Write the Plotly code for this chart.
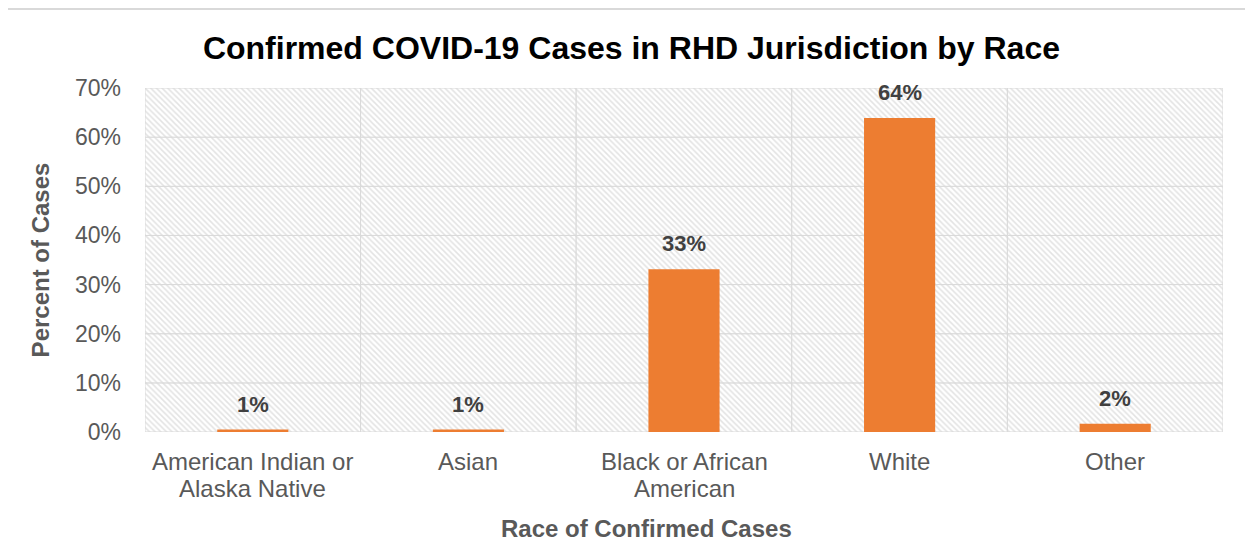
import plotly.graph_objects as go

categories = ["American Indian or Alaska Native", "Asian", "Black or African American", "White", "Other"]
tick_lines = [["American Indian or", "Alaska Native"], ["Asian"], ["Black or African", "American"], ["White"], ["Other"]]
values = [0.5, 0.5, 33.1, 63.9, 1.7]
labels = ["1%", "1%", "33%", "64%", "2%"]
y_ticks = [0, 10, 20, 30, 40, 50, 60, 70]
y_tick_text = [f"{v}%" for v in y_ticks]

FONT = "Liberation Sans, Arial"
GRAY = "#595959"

fig = go.Figure()

# hatched background cells (one band per gridline interval)
for lo, hi in zip(y_ticks[:-1], y_ticks[1:]):
    fig.add_trace(go.Bar(
        x=categories, y=[hi - lo] * len(categories), base=[lo] * len(categories),
        width=1, hoverinfo="skip", showlegend=False,
        marker=dict(color="white",
                    line=dict(color="#d9d9d9", width=1),
                    pattern=dict(shape="\\", fgcolor="#c8c8c8", bgcolor="white",
                                 size=4, solidity=0.4)),
    ))

fig.add_trace(go.Bar(
    x=categories, y=values, width=0.33, showlegend=False,
    marker=dict(color="#ED7D31", line=dict(width=0)),
))

# data labels
for c, v, t in zip(categories, values, labels):
    fig.add_annotation(x=c, y=v, text=f"<b>{t}</b>", showarrow=False,
                       yanchor="bottom", yshift=11,
                       font=dict(family=FONT, size=22, color="#404040"))

# category labels (tighter line spacing than plotly's default)
for c, lines in zip(categories, tick_lines):
    for i, line in enumerate(lines):
        fig.add_annotation(x=c, y=0, yref="y", text=line, showarrow=False,
                           yanchor="middle", yshift=-29 - 27 * i,
                           font=dict(family=FONT, size=24, color=GRAY))

# x-axis title
fig.add_annotation(x=(646 - 145) / 1078, xref="paper", y=0, yref="paper",
                   text="<b>Race of Confirmed Cases</b>", showarrow=False,
                   xanchor="center", yanchor="middle", yshift=-96,
                   font=dict(family=FONT, size=24, color=GRAY))

# outer chart frame (page coords converted to plot-area paper coords)
fig.add_shape(type="rect", xref="paper", yref="paper",
              x0=(7 - 145) / 1078, x1=(1270 - 145) / 1078,
              y0=(432 - 570) / 344, y1=(432 - 9) / 344,
              line=dict(color="#d9d9d9", width=2), layer="below")

fig.update_layout(
    width=1237, height=534,
    margin=dict(l=137, r=22, t=80, b=110),
    barmode="overlay",
    paper_bgcolor="white", plot_bgcolor="white",
    title=dict(text="<b>Confirmed COVID-19 Cases in RHD Jurisdiction by Race</b>",
               x=0.504, xanchor="center", y=0.925, yanchor="middle",
               font=dict(family=FONT, size=32, color="#000000")),
    font=dict(family=FONT, color=GRAY),
    xaxis=dict(range=[-0.5, 4.5], showgrid=False, zeroline=False, showline=False,
               showticklabels=False, ticks=""),
    yaxis=dict(range=[0, 70], tickvals=y_ticks, ticktext=y_tick_text, showgrid=False,
               zeroline=False, showline=False, ticks="", ticklabelstandoff=23,
               tickfont=dict(size=23, color=GRAY),
               title=dict(text="<b>Percent of Cases</b>", standoff=18,
                          font=dict(size=24, color=GRAY))),
)

fig.write_html("out.html")
